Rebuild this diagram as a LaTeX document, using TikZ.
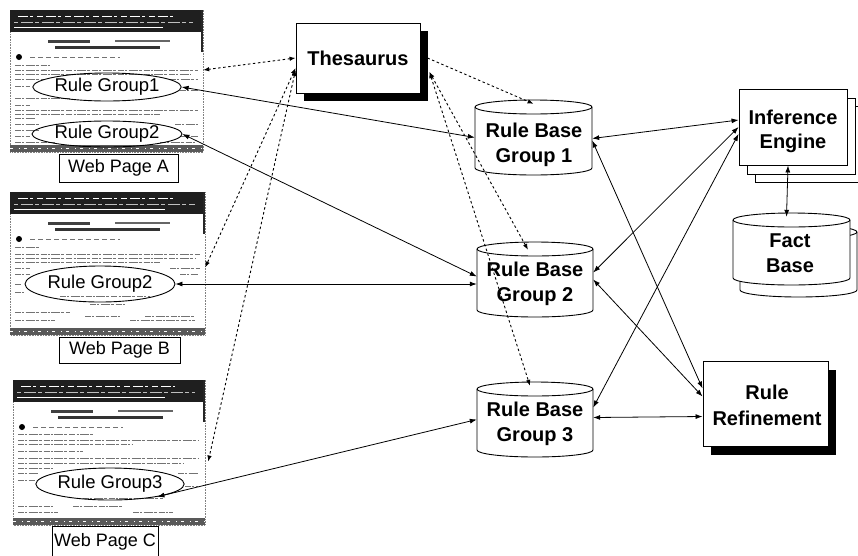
\documentclass[tikz,border=0pt]{standalone}
\usepackage{fontspec}
\setmainfont{Liberation Sans}
\usetikzlibrary{arrows.meta,shapes.geometric}
\tikzset{
  conn/.style={line width=0.8pt, {Latex[length=7pt,width=5pt]}-{Latex[length=7pt,width=5pt]}},
  dconn/.style={line width=0.9pt, dash pattern=on 2.5pt off 2.5pt, {Latex[length=6pt,width=4.5pt]}-{Latex[length=6pt,width=4.5pt]}},
  dconnone/.style={line width=0.9pt, dash pattern=on 2.5pt off 2.5pt, -{Latex[length=6pt,width=4.5pt]}},
  bigtxt/.style={font=\fontsize{20}{25}\selectfont\bfseries, align=center, inner sep=0pt},
  pagelbl/.style={draw, line width=0.8pt, fill=white, font=\fontsize{18}{20}\selectfont, inner sep=0pt},
  grp/.style={ellipse, draw, line width=0.9pt, font=\fontsize{18.5}{20}\selectfont, inner sep=0pt},
  anchorbox/.style={rectangle, draw=none, inner sep=0pt},
  txtline/.style={black!55, line width=0.7pt, dash pattern=on 6pt off 1.2pt on 2pt off 1.5pt on 9pt off 1pt on 3pt off 2pt},
  shapeline/.style={line width=0.9pt},
}
% screenshot background: x0,y0,x1,y1 (pixel coordinates, y downward)
\newcommand{\webshot}[4]{%
  \draw[black!50, line width=0.6pt, densely dotted] (#1,#2) rectangle (#3,#4);
  \fill[black!88] (#1,#2) rectangle (#3,{#2+22});
  \draw[white, line width=0.7pt, dash pattern=on 10pt off 2pt on 3pt off 4pt on 6pt off 3pt] ({#1+8},{#2+6}) -- ({#3-30},{#2+6});
  \draw[black!25, line width=0.6pt, dash pattern=on 4pt off 3pt on 12pt off 2pt] ({#1+4},{#2+12}) -- ({#3-10},{#2+12});
  \draw[white, line width=0.8pt] ({#1+4},{#2+17}) -- ({#3-40},{#2+17});
  \draw[black!85, line width=1.6pt] ({#3-1},{#2}) -- ({#3-1},{#2+42});
  \fill[black!75] ({#1+38},{#2+30}) rectangle ({#1+80},{#2+32.5});
  \fill[black!60] ({#1+105},{#2+30}) rectangle ({#1+160},{#2+31.5});
  \fill[black!80] ({#1+45},{#2+36}) rectangle ({#1+150},{#2+38.5});
  \fill[black] ({#1+9},{#2+47}) circle (3pt);
  \draw[black!55, line width=0.6pt, dash pattern=on 5pt off 3pt] ({#1+20},{#2+47}) -- ({#1+110},{#2+47});
  \fill[black!65] (#1,{#4-7}) rectangle (#3,#4);
  \draw[white, line width=0.6pt, dash pattern=on 3pt off 6pt on 1pt off 4pt] (#1,{#4-4}) -- (#3,{#4-4});
}
% cylinder: x0,y0,x1,y1,rx (rx as number in pt)
\newcommand{\cylshape}[5]{%
  \filldraw[shapeline, fill=white] (#1,{#2+7}) -- (#1,{#4-7})
     arc[start angle=180, end angle=360, x radius=#5pt, y radius=7pt]
     -- (#3,{#2+7})
     arc[start angle=0, end angle=180, x radius=#5pt, y radius=7pt] -- cycle;
  \draw[shapeline] (#1,{#2+7}) arc[start angle=180, end angle=360, x radius=#5pt, y radius=7pt];
}
\begin{document}
\begin{tikzpicture}[x=1pt, y=-1pt]
\fill[white] (0,0) rectangle (858,555);
\useasboundingbox (0,0) rectangle (858,555);

% ---------- web page screenshots ----------
\webshot{10}{10}{203}{152}
\foreach \dy/\a/\b in {55/5/40, 60/5/188, 64/5/180, 69/5/35, 69/160/188, 76/5/20, 80/170/188, 88/5/60, 95/5/20, 100/5/188, 104/5/150, 108/5/25, 114/5/30, 114/165/188, 120/5/30, 126/5/20, 126/170/188, 132/5/45, 132/150/185}
  \draw[txtline] ({10+\a},{10+\dy}) -- ({10+\b},{10+\dy});
\webshot{10}{192}{205}{335}
\foreach \dy/\a/\b in {55/5/30, 62/5/190, 66/5/185, 70/5/150, 76/5/20, 76/160/190, 82/5/20, 82/170/188, 92/5/12, 92/168/180, 100/5/15, 104/50/140, 112/80/115, 120/5/60, 124/75/110, 124/135/185, 128/5/45, 128/120/185}
  \draw[txtline] ({10+\a},{192+\dy}) -- ({10+\b},{192+\dy});
\webshot{13}{380}{205}{525}
\foreach \dy/\a/\b in {54/5/80, 60/5/185, 64/5/120, 71/5/70, 78/5/185, 83/5/170, 88/5/40, 93/5/25, 93/165/185, 100/5/22, 106/172/185, 118/70/150, 126/5/40, 126/60/110, 132/5/45, 132/120/160}
  \draw[txtline] ({13+\a},{380+\dy}) -- ({13+\b},{380+\dy});

\node[anchorbox, minimum width=193pt, minimum height=142pt] (wpA) at (106.5,81) {};
\node[anchorbox, minimum width=195pt, minimum height=143pt] (wpB) at (107.5,263.5) {};
\node[anchorbox, minimum width=192pt, minimum height=145pt] (wpC) at (109,452.5) {};

\node[grp, minimum width=148pt, minimum height=28pt] (rg1) at (107,87) {Rule Group1};
\node[grp, minimum width=150pt, minimum height=26pt] (rg2a) at (107,134) {Rule Group2};
\node[grp, minimum width=150pt, minimum height=36pt] (rg2b) at (100,284) {Rule Group2};
\node[grp, minimum width=146pt, minimum height=32pt] (rg3) at (110,484) {Rule Group3};

\node[pagelbl, minimum width=119pt, minimum height=28pt] (lblA) at (118.5,168) {Web Page A};
\node[pagelbl, minimum width=121pt, minimum height=26pt] (lblB) at (119.5,350) {Web Page B};
\node[pagelbl, minimum width=106pt, minimum height=32pt] (lblC) at (105,542) {Web Page C};

% ---------- Thesaurus ----------
\fill[black] (304,31) rectangle (428,101);
\node[anchorbox, draw, shapeline, fill=white, minimum width=124pt, minimum height=70pt] (th) at (358,58) {};
\node[bigtxt] (tht) at (358,58) {Thesaurus};

% ---------- Rule base cylinders ----------
\cylshape{475}{100}{592}{175}{58.5}
\node[anchorbox, minimum width=117pt, minimum height=75pt] (rb1) at (533.5,137.5) {};
\node[bigtxt] (rb1t) at (534,145) {Rule Base\\Group 1};

\cylshape{477}{242}{593}{317}{58}
\node[anchorbox, minimum width=116pt, minimum height=75pt] (rb2) at (535,279.5) {};
\node[bigtxt] (rb2t) at (535,284) {Rule Base\\Group 2};

\cylshape{477}{382}{593}{457}{58}
\node[anchorbox, minimum width=116pt, minimum height=75pt] (rb3) at (535,419.5) {};
\node[bigtxt] (rb3t) at (535,424) {Rule Base\\Group 3};

% ---------- Inference Engine (stacked) ----------
\filldraw[shapeline, fill=white] (755,106) rectangle (863,182);
\filldraw[shapeline, fill=white] (747,98) rectangle (855,174);
\node[anchorbox, draw, shapeline, fill=white, minimum width=108pt, minimum height=76pt] (ie) at (793,127) {};
\node[bigtxt, font=\fontsize{20}{24}\selectfont\bfseries] (iet) at (793,131) {Inference\\Engine};

% ---------- Fact Base (stacked cylinders) ----------
\cylshape{740}{225}{857}{297}{58.5}
\cylshape{733}{213}{850}{285}{58.5}
\node[anchorbox, minimum width=117pt, minimum height=72pt] (fb) at (791.5,249) {};
\node[bigtxt] (fbt) at (790,253) {Fact\\Base};

% ---------- Rule Refinement ----------
\fill[black] (711,370) rectangle (836,455);
\node[anchorbox, draw, shapeline, fill=white, minimum width=125pt, minimum height=85pt] (rr) at (765.5,403.5) {};
\node[bigtxt, font=\fontsize{20}{26}\selectfont\bfseries] (rrt) at (767,405) {Rule\\Refinement};

% ---------- dashed connectors (Thesaurus) ----------
\draw[dconn] (th.west) -- ([yshift=11pt]wpA.east);
\draw[dconn] ([yshift=-10pt]th.west) -- ([yshift=-4pt]wpB.east);
\draw[dconn] ([yshift=-12pt]th.west) -- ([xshift=3pt,yshift=-9pt]wpC.east);
\draw[dconnone] ([xshift=7pt]th.east) -- ([yshift=-4pt]rb1.north);
\draw[dconn] ([xshift=9pt,yshift=-14pt]th.east) -- ([xshift=-7pt,yshift=-8pt]rb2.north);
\draw[dconn] ([xshift=9pt,yshift=-14pt]th.east) -- ([xshift=-5pt,yshift=-4pt]rb3.north);

% ---------- solid connectors ----------
\draw[conn] (rg1.east) -- (rb1.west);
\draw[conn] (rg2a.east) -- ([yshift=3pt]rb2.west);
\draw[conn] (rg2b.east) -- (rb2.west |- rg2b.east);
\draw[conn] (rg3.-15) -- (rb3.west);
\draw[conn] ([yshift=-1pt]rb1.east) -- ([yshift=7pt]ie.west);
\draw[conn] ([yshift=-3pt]rb1.east) -- ([yshift=15pt]rr.west);
\draw[conn] ([yshift=7pt]rb2.east) -- (ie.west);
\draw[conn] (rb2.east) -- ([yshift=7pt]rr.west);
\draw[conn] ([yshift=12pt]rb3.east) -- ([yshift=-7pt]ie.west);
\draw[conn] ([yshift=2pt]rb3.east) -- ([yshift=-13pt]rr.west);
\draw[conn] ([xshift=-5pt]ie.south) -- ([xshift=-5pt,yshift=-4pt]fb.north);
\end{tikzpicture}
\end{document}
